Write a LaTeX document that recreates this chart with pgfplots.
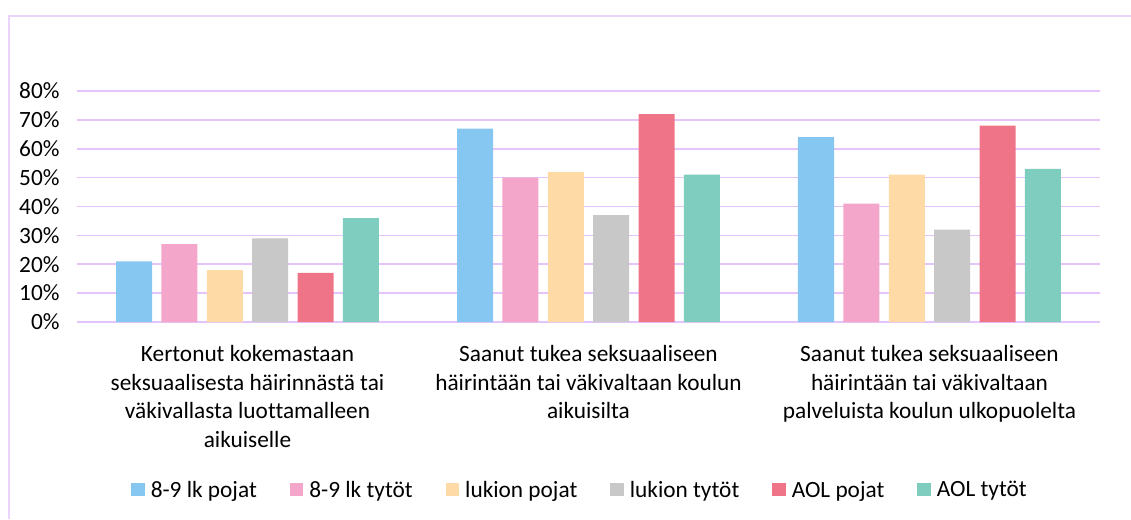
\documentclass[border=0pt]{standalone}
\usepackage{pgfplots}
\pgfplotsset{compat=1.18}
\usepackage{fontspec}
\setmainfont{Carlito}[Ligatures=NoCommon]
\definecolor{cBlue}{HTML}{85C7F0}
\definecolor{cPink}{HTML}{F4A6CA}
\definecolor{cPeach}{HTML}{FEDAA6}
\definecolor{cGray}{HTML}{C8C8C8}
\definecolor{cRed}{HTML}{F07487}
\definecolor{cTeal}{HTML}{7FCDBE}
\definecolor{cGrid}{HTML}{E4C4FA}
\definecolor{cFrame}{HTML}{EBD3FC}
\begin{document}
\begin{tikzpicture}
\path[use as bounding box] (0,0) rectangle (1131pt,519pt);
\draw[cFrame, line width=2pt] (9pt,0pt) -- (9pt,503pt) -- (1131pt,503pt);
\begin{axis}[
  at={(77pt,197pt)}, anchor=south west,
  scale only axis, width=1023pt, height=231pt,
  xmin=-0.5, xmax=2.5, ymin=0, ymax=80,
  ytick={0,10,...,80},
  yticklabel={\pgfmathprintnumber{\tick}\%},
  /pgf/number format/assume math mode=true,
  xtick={0,1,2},
  xticklabels={{Kertonut kokemastaan\\seksuaalisesta häirinnästä tai\\väkivallasta luottamalleen\\aikuiselle},
               {Saanut tukea seksuaaliseen\\häirintään tai väkivaltaan koulun\\aikuisilta},
               {Saanut tukea seksuaaliseen\\häirintään tai väkivaltaan\\palveluista koulun ulkopuolelta}},
  xticklabel style={align=center, anchor=north, yshift=-20pt},
  yticklabel style={anchor=east, xshift=-14pt},
  ticklabel style={font=\fontsize{23.3}{28.5}\selectfont},
  major tick length=0pt,
  axis line style={draw=none},
  ymajorgrids, grid style={cGrid, line width=1.6pt},
  ybar, bar width=0.1056,
  legend columns=6,
  legend style={at={(0.4917,-0.727)}, anchor=center, draw=none,
    font=\fontsize{23.3}{28}\selectfont,
    /tikz/every odd column/.append style={column sep=4pt},
    /tikz/every even column/.append style={column sep=31pt}},
  legend image code/.code={\fill[#1] (0pt,-6.5pt) rectangle (13.5pt,6.5pt);},
]
\addplot[fill=cBlue, draw=none, bar shift=-0.3328] coordinates {(0,21) (1,67) (2,64)};
\addplot[fill=cPink, draw=none, bar shift=-0.1997] coordinates {(0,27) (1,50) (2,41)};
\addplot[fill=cPeach, draw=none, bar shift=-0.0666] coordinates {(0,18) (1,52) (2,51)};
\addplot[fill=cGray, draw=none, bar shift=0.0666] coordinates {(0,29) (1,37) (2,32)};
\addplot[fill=cRed, draw=none, bar shift=0.1997] coordinates {(0,17) (1,72) (2,68)};
\addplot[fill=cTeal, draw=none, bar shift=0.3328] coordinates {(0,36) (1,51) (2,53)};
\legend{8-9 lk pojat, 8-9 lk tytöt, lukion pojat, lukion tytöt, AOL pojat, AOL tytöt}
\end{axis}
\end{tikzpicture}
\end{document}
